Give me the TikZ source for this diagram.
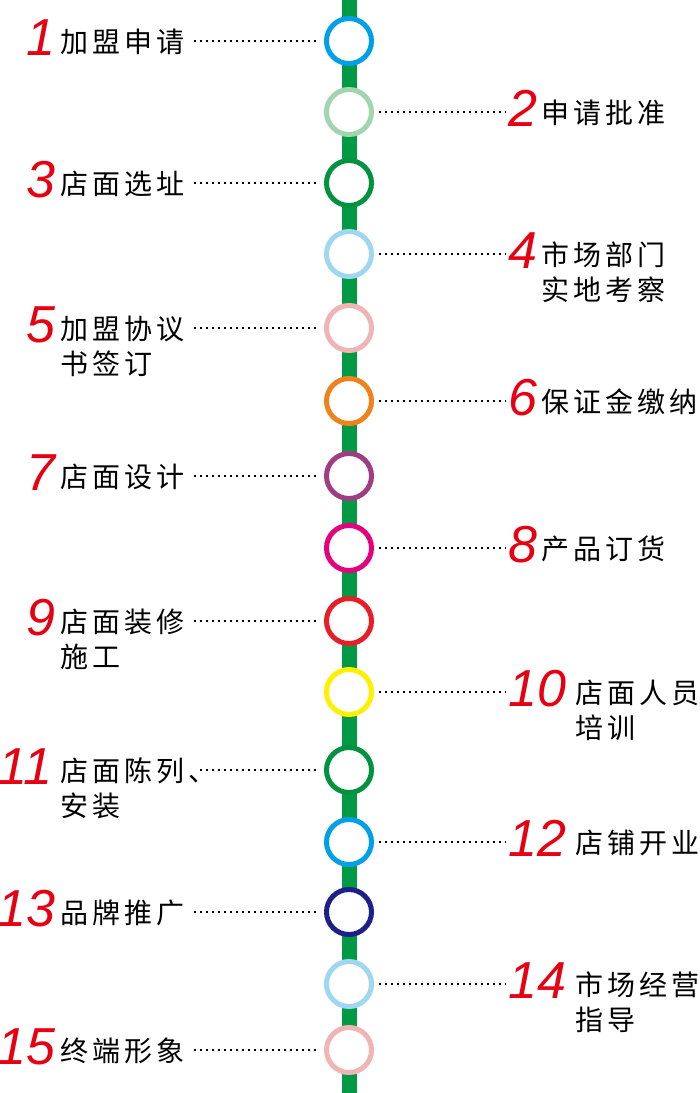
\documentclass[tikz,border=0pt]{standalone}
\usepackage{fontspec}
\newfontfamily\cjk[LetterSpace=15]{Noto Sans CJK SC}
\newfontfamily\numfont{Liberation Sans}
\definecolor{track}{RGB}{0,153,68}
\definecolor{numred}{RGB}{230,0,18}
\definecolor{sblue}{RGB}{0,160,233}
\definecolor{slgreen}{RGB}{163,212,176}
\definecolor{sgreen}{RGB}{0,146,63}
\definecolor{slblue}{RGB}{160,215,240}
\definecolor{spink}{RGB}{240,180,180}
\definecolor{sorange}{RGB}{240,130,30}
\definecolor{spurple}{RGB}{160,60,130}
\definecolor{smagenta}{RGB}{230,0,126}
\definecolor{sred}{RGB}{230,30,40}
\definecolor{syellow}{RGB}{255,240,0}
\definecolor{snavy}{RGB}{29,32,136}
\tikzset{
  stopnode/.style={circle, draw=#1, fill=white, line width=5pt, minimum size=45pt, inner sep=0pt},
  numL/.style={anchor=base east, inner sep=0pt, text=numred, font=\numfont\itshape\fontsize{52}{52}\selectfont},
  numR/.style={anchor=base west, inner sep=0pt, text=numred, font=\numfont\itshape\fontsize{52}{52}\selectfont},
  lbl/.style={anchor=base west, inner sep=0pt, text=black, font=\cjk\fontsize{28}{30}\selectfont},
  dotline/.style={line width=1.6pt, dash pattern=on 1.6pt off 4.4pt, black},
}
\begin{document}
\begin{tikzpicture}[x=1pt,y=-1pt]
\useasboundingbox (0,0) rectangle (700,1093);
\coordinate (top) at (349,0);
\coordinate (bot) at (349,1093);
\draw[track, line width=15pt] (top) -- (bot);

% stops
\node[stopnode=sblue]    (c1)  at (349,41)   {};
\node[stopnode=slgreen]  (c2)  at (349,112)  {};
\node[stopnode=sgreen]   (c3)  at (349,183)  {};
\node[stopnode=slblue]   (c4)  at (349,254)  {};
\node[stopnode=spink]    (c5)  at (349,328)  {};
\node[stopnode=sorange]  (c6)  at (349,401)  {};
\node[stopnode=spurple]  (c7)  at (349,476)  {};
\node[stopnode=smagenta] (c8)  at (349,548)  {};
\node[stopnode=sred]     (c9)  at (349,621)  {};
\node[stopnode=syellow]  (c10) at (349,692)  {};
\node[stopnode=sgreen]   (c11) at (349,770)  {};
\node[stopnode=sblue]    (c12) at (349,842)  {};
\node[stopnode=snavy]    (c13) at (349,912)  {};
\node[stopnode=slblue]   (c14) at (349,984)  {};
\node[stopnode=spink]    (c15) at (349,1050) {};

% left labels
\node[numL] (n1) at (56,55) {1};
\node[lbl] (t1) at (60,52) {加盟申请};
\coordinate (d1) at (194,41);
\draw[dotline, shorten >=5pt] (d1) -- (c1);

\node[numL] (n3) at (56,197) {3};
\node[lbl] (t3) at (60,194) {店面选址};
\coordinate (d3) at (194,183);
\draw[dotline, shorten >=5pt] (d3) -- (c3);

\node[numL] (n5) at (56,342) {5};
\node[lbl] (t5) at (60,339) {加盟协议};
\node[lbl] (t5b) at (60,374) {书签订};
\coordinate (d5) at (194,328);
\draw[dotline, shorten >=5pt] (d5) -- (c5);

\node[numL] (n7) at (56,490) {7};
\node[lbl] (t7) at (60,487) {店面设计};
\coordinate (d7) at (194,476);
\draw[dotline, shorten >=5pt] (d7) -- (c7);

\node[numL] (n9) at (56,635) {9};
\node[lbl] (t9) at (60,632) {店面装修};
\node[lbl] (t9b) at (60,667) {施工};
\coordinate (d9) at (194,621);
\draw[dotline, shorten >=5pt] (d9) -- (c9);

\node[numL] (n11) at (53,784) {11};
\node[lbl] (t11) at (60,781) {店面陈列、};
\node[lbl] (t11b) at (60,816) {安装};
\coordinate (d11) at (200,770);
\draw[dotline, shorten >=5pt] (d11) -- (c11);

\node[numL] (n13) at (56,926) {13};
\node[lbl] (t13) at (60,923) {品牌推广};
\coordinate (d13) at (194,912);
\draw[dotline, shorten >=5pt] (d13) -- (c13);

\node[numL] (n15) at (56,1064) {15};
\node[lbl] (t15) at (60,1061) {终端形象};
\coordinate (d15) at (194,1050);
\draw[dotline, shorten >=5pt] (d15) -- (c15);

% right labels
\node[numR] (n2) at (508,126) {2};
\node[lbl] (t2) at (541,123) {申请批准};
\coordinate (d2) at (506,112);
\draw[dotline, shorten <=5pt] (c2) -- (d2);

\node[numR] (n4) at (508,268) {4};
\node[lbl] (t4) at (541,265) {市场部门};
\node[lbl] (t4b) at (541,300) {实地考察};
\coordinate (d4) at (506,254);
\draw[dotline, shorten <=5pt] (c4) -- (d4);

\node[numR] (n6) at (508,415) {6};
\node[lbl] (t6) at (541,412) {保证金缴纳};
\coordinate (d6) at (506,401);
\draw[dotline, shorten <=5pt] (c6) -- (d6);

\node[numR] (n8) at (508,562) {8};
\node[lbl] (t8) at (541,559) {产品订货};
\coordinate (d8) at (506,548);
\draw[dotline, shorten <=5pt] (c8) -- (d8);

\node[numR] (n10) at (508,706) {10};
\node[lbl] (t10) at (575,703) {店面人员};
\node[lbl] (t10b) at (575,738) {培训};
\coordinate (d10) at (506,692);
\draw[dotline, shorten <=5pt] (c10) -- (d10);

\node[numR] (n12) at (508,856) {12};
\node[lbl] (t12) at (575,853) {店铺开业};
\coordinate (d12) at (506,842);
\draw[dotline, shorten <=5pt] (c12) -- (d12);

\node[numR] (n14) at (508,998) {14};
\node[lbl] (t14) at (575,995) {市场经营};
\node[lbl] (t14b) at (575,1030) {指导};
\coordinate (d14) at (506,984);
\draw[dotline, shorten <=5pt] (c14) -- (d14);
\end{tikzpicture}
\end{document}
